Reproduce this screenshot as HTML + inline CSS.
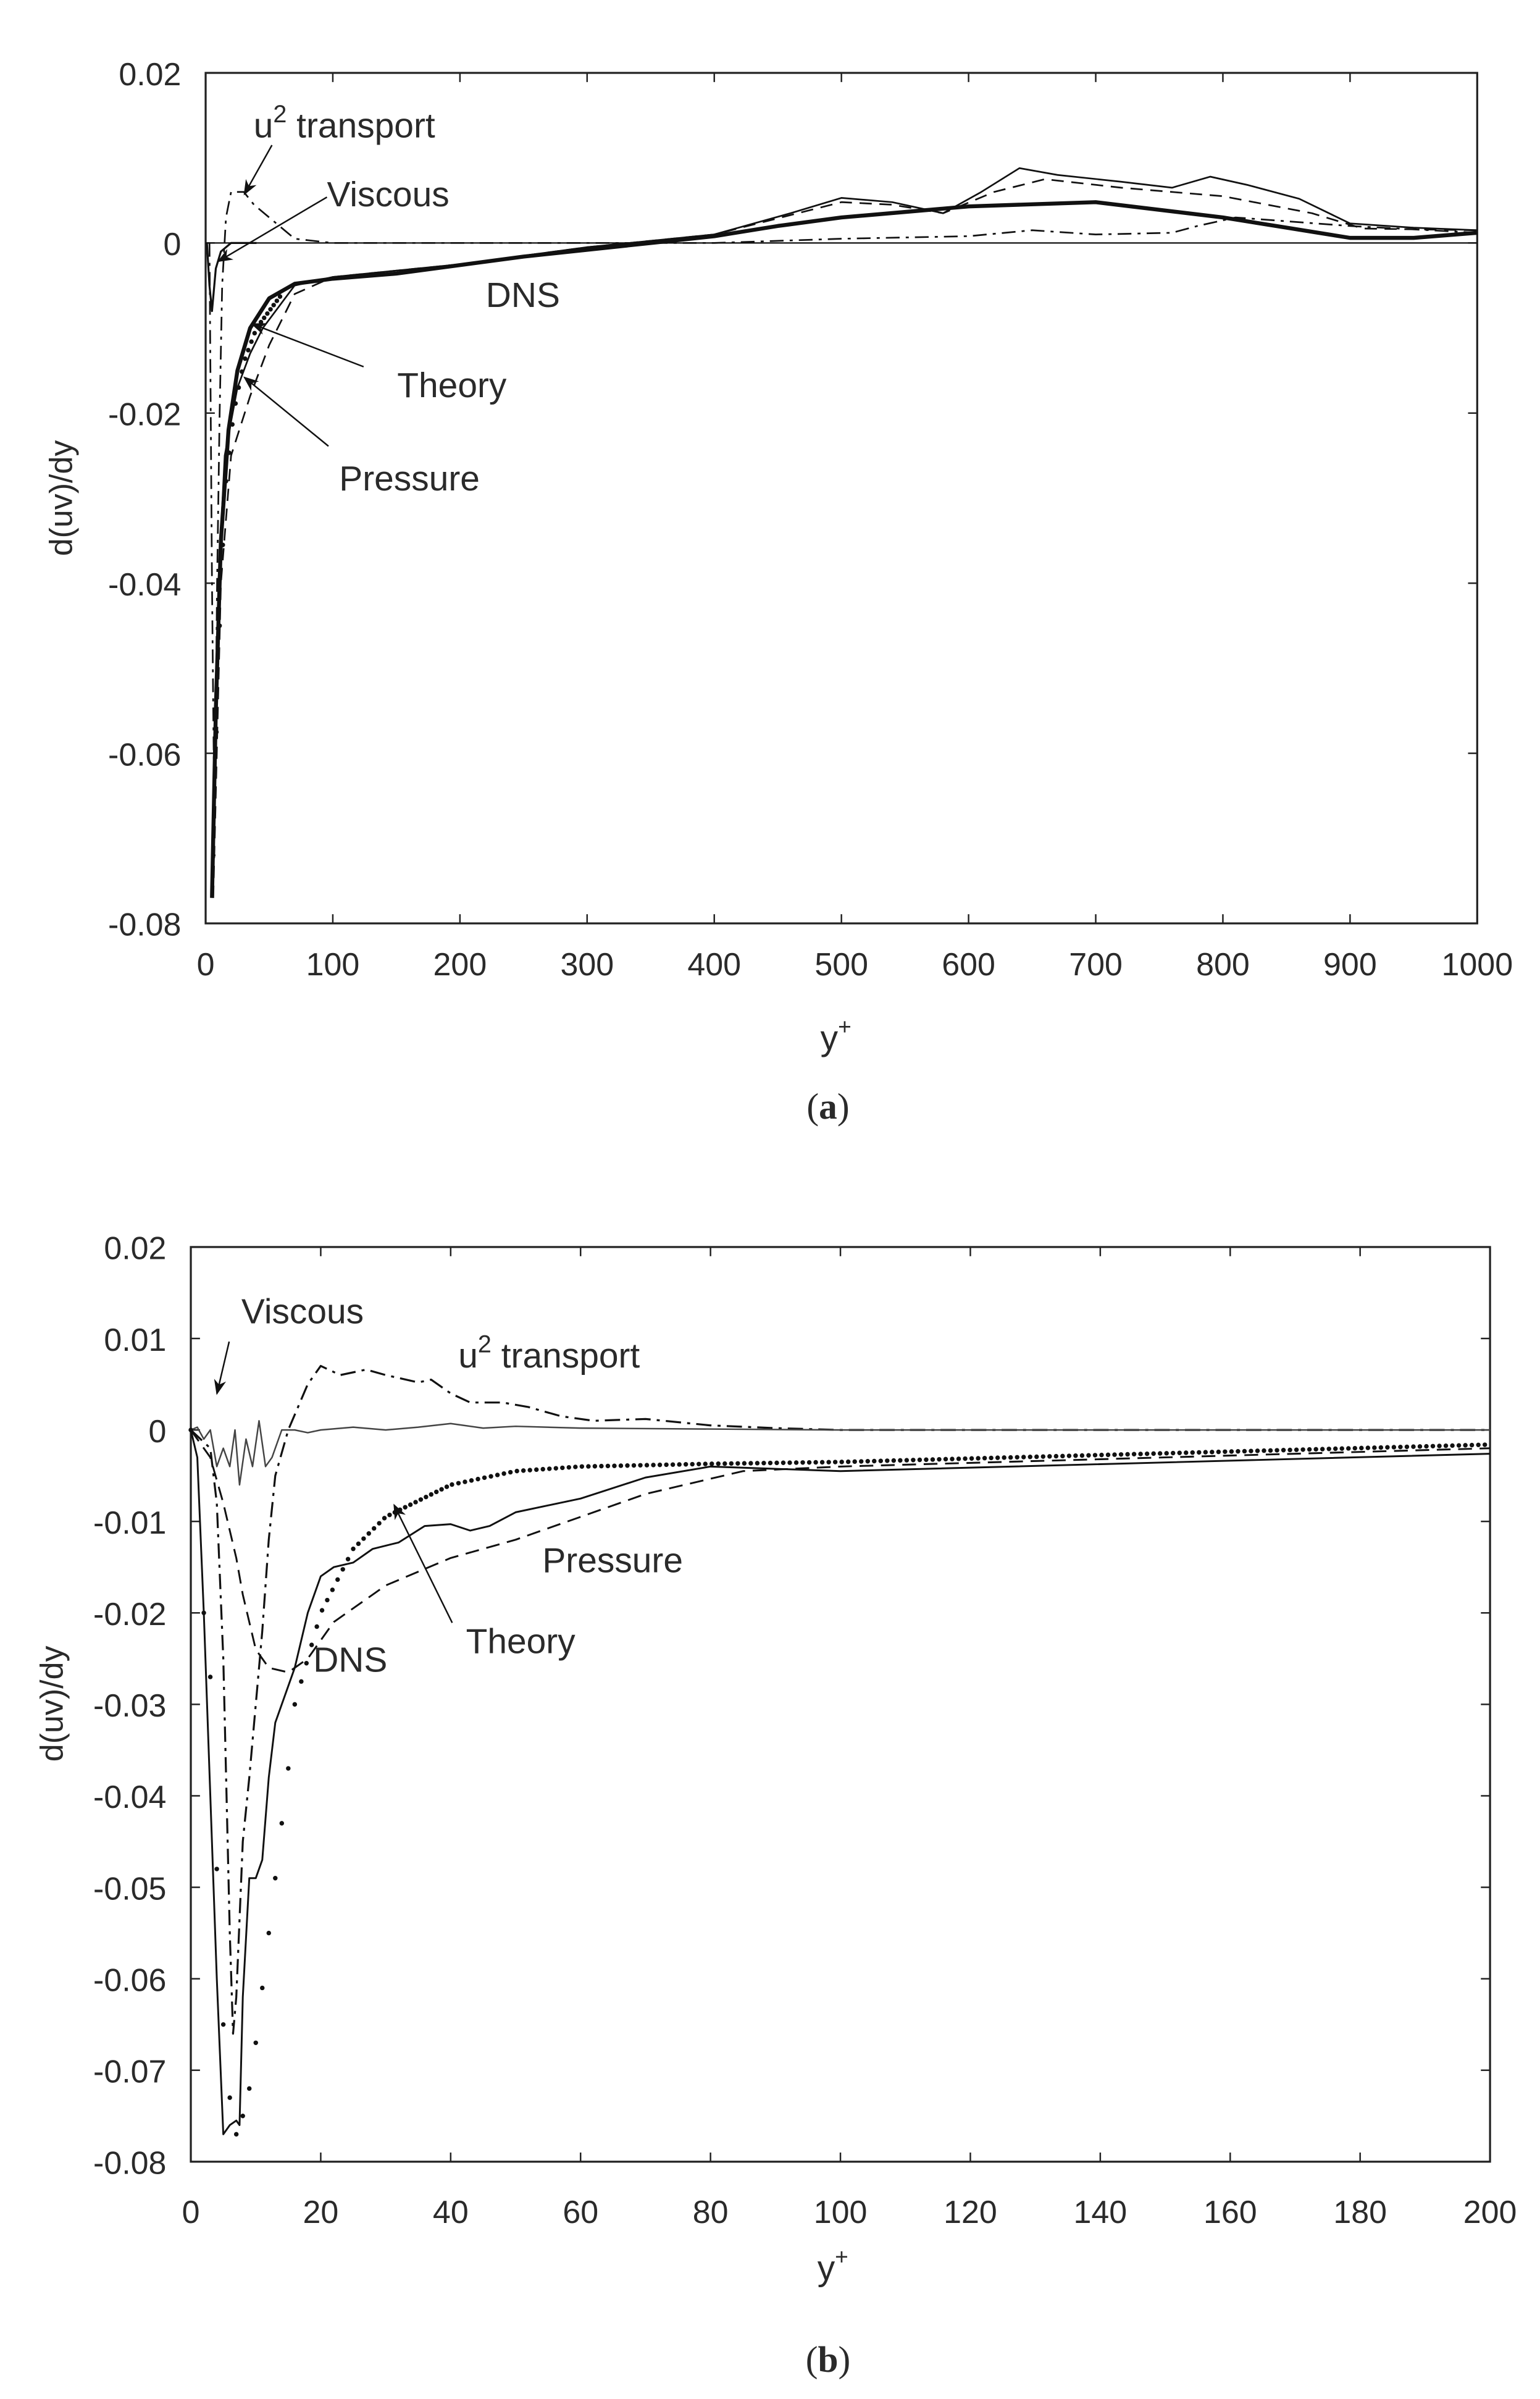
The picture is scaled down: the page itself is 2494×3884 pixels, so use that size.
<!DOCTYPE html>
<html><head><meta charset="utf-8"><style>
html,body{margin:0;padding:0;background:#fff;}
svg{display:block;}
text{font-family:"Liberation Sans",sans-serif;fill:#2a2a2a;}
</style></head><body>
<svg id="s" width="2494" height="3884" viewBox="0 0 1008 1570" preserveAspectRatio="none" xmlns="http://www.w3.org/2000/svg">
<defs><marker id="ar" markerWidth="10" markerHeight="10" refX="9" refY="5" orient="auto" markerUnits="userSpaceOnUse"><path d="M0,1 L10,5 L0,9 L3,5 Z" fill="#111"/></marker></defs>
<g id="g"></g>
<text x="166" y="90" font-size="23">u<tspan dy="-10" font-size="16">2</tspan><tspan dy="10"> transport</tspan></text>
<text x="214" y="135" font-size="23">Viscous</text>
<text x="318" y="201" font-size="23">DNS</text>
<text x="260" y="260" font-size="23">Theory</text>
<text x="222" y="321" font-size="23">Pressure</text>
<text x="0" y="0" font-size="21" transform="translate(47,326) rotate(-90)" text-anchor="middle">d(uv)/dy</text>
<text x="537" y="687" font-size="23">y<tspan dy="-10" font-size="15">+</tspan></text>
<text x="542" y="732" font-size="24" text-anchor="middle" style="font-family:'Liberation Serif',serif">(<tspan font-weight="bold">a</tspan>)</text>
<text x="158" y="866" font-size="23">Viscous</text>
<text x="300" y="895" font-size="23">u<tspan dy="-10" font-size="16">2</tspan><tspan dy="10"> transport</tspan></text>
<text x="355" y="1029" font-size="23">Pressure</text>
<text x="305" y="1082" font-size="23">Theory</text>
<text x="205" y="1094" font-size="23">DNS</text>
<text x="0" y="0" font-size="21" transform="translate(41,1115) rotate(-90)" text-anchor="middle">d(uv)/dy</text>
<text x="535" y="1492" font-size="23">y<tspan dy="-10" font-size="15">+</tspan></text>
<text x="542" y="1552" font-size="24" text-anchor="middle" style="font-family:'Liberation Serif',serif">(<tspan font-weight="bold">b</tspan>)</text>
</svg>
<script>
var g=document.getElementById('g'),NS='http://www.w3.org/2000/svg';
function el(t,a){var e=document.createElementNS(NS,t);for(var k in a)e.setAttribute(k,a[k]);g.appendChild(e);return e;}
function plot(P){
 var fx=function(x){return P.L+(x-P.x0)/(P.x1-P.x0)*(P.R-P.L)},fy=function(y){return P.T+(P.y1-y)/(P.y1-P.y0)*(P.B-P.T)};
 P.fx=fx;P.fy=fy;
 el('rect',{x:P.L,y:P.T,width:P.R-P.L,height:P.B-P.T,fill:'none',stroke:'#222','stroke-width':1.3});
 for(var i=0;i<P.xt.length;i++){var v=P.xt[i],X=fx(v);
  el('line',{x1:X,y1:P.B,x2:X,y2:P.B-6,stroke:'#222','stroke-width':1});el('line',{x1:X,y1:P.T,x2:X,y2:P.T+6,stroke:'#222','stroke-width':1});
  var t=el('text',{x:X,y:P.B+P.xo,'font-size':21,'text-anchor':'middle'});t.textContent=v;}
 for(var i=0;i<P.yt.length;i++){var v=P.yt[i],Y=fy(v);
  el('line',{x1:P.L,y1:Y,x2:P.L+6,y2:Y,stroke:'#222','stroke-width':1});el('line',{x1:P.R,y1:Y,x2:P.R-6,y2:Y,stroke:'#222','stroke-width':1});
  var t=el('text',{x:P.L-16,y:Y+8,'font-size':21,'text-anchor':'end'});t.textContent=v==0?'0':(v/1000).toFixed(2);}
}
function line(P,d,a){var s='';for(var i=0;i<d.length;i++)s+=(i?'L':'M')+P.fx(d[i][0]).toFixed(2)+','+P.fy(d[i][1]).toFixed(2);
 var o={d:s,fill:'none',stroke:'#111','stroke-width':1,'stroke-linejoin':'round'};for(var k in a)o[k]=a[k];el('path',o);}
function dots(P,d,r){for(var i=0;i<d.length;i++)el('circle',{cx:P.fx(d[i][0]),cy:P.fy(d[i][1]),r:r||1.4,fill:'#111'});}
function arrow(x1,y1,x2,y2){el('line',{x1:x1,y1:y1,x2:x2,y2:y2,stroke:'#111','stroke-width':1,'marker-end':'url(#ar)'});}
function interp(d,x){for(var i=1;i<d.length;i++)if(x<=d[i][0]){var a=d[i-1],b=d[i];return a[1]+(b[1]-a[1])*(x-a[0])/(b[0]-a[0]);}return d[d.length-1][1];}

var A={L:134.6,R:966.9,T:47.7,B:604.3,x0:0,x1:1000,y0:-80,y1:20,xo:34,xt:[0,100,200,300,400,500,600,700,800,900,1000],yt:[20,0,-20,-40,-60,-80]};
plot(A);
line(A,[[0,0],[1000,0]],{'stroke-width':0.9});
line(A,[[5,-77],[8,-55],[12,-35],[18,-22],[25,-15],[35,-10],[50,-6.5],[70,-4.8],[100,-4.2],[150,-3.6],[250,-1.6],[350,0],[400,0.8],[450,2],[500,3],[600,4.3],[700,4.8],[800,3],[850,1.8],[900,0.6],[950,0.6],[1000,1.2]],{'stroke-width':2.6});
line(A,[[5,-77],[10,-40],[15,-25],[25,-17],[35,-13],[45,-10],[55,-8],[70,-5],[100,-4],[200,-2.5],[300,-0.5],[400,1],[460,3.5],[500,5.3],[540,4.8],[580,3.5],[610,6],[640,8.8],[670,8],[720,7.2],[760,6.5],[790,7.8],[820,6.8],[860,5.2],[900,2.3],[950,1.8],[1000,1.5]],{'stroke-width':1.1});
line(A,[[6,-77],[12,-40],[20,-25],[35,-18],[50,-12],[70,-6],[100,-4],[200,-2.5],[300,-0.5],[400,1],[500,4.8],[540,4.5],[580,3.5],[620,6],[660,7.5],[720,6.5],[800,5.5],[870,3.5],[910,1.7],[1000,1.5]],{'stroke-width':1.1,'stroke-dasharray':'8,5'});
line(A,[[3,0],[5,-40],[7,-70],[9,-40],[11,-20],[13,-5],[16,3],[20,6],[30,6],[38,4.5],[50,3],[70,0.5],[100,0],[400,0],[500,0.5],[600,0.8],[650,1.5],[700,1],[760,1.2],[780,2],[810,3],[900,2],[1000,1.2]],{'stroke-width':1.1,'stroke-dasharray':'9,4,2,4'});
line(A,[[1,0],[3,-5],[5,-8],[8,-3],[12,-1],[20,0],[40,0]],{'stroke-width':1.3});
var pa=[];for(var x=6;x<=60;x+=2.5)pa.push([x,interp([[5,-78],[8,-60],[12,-40],[16,-28],[22,-20],[30,-14],[40,-10],[60,-6]],x)]);dots(A,pa,1.5);
arrow(178,95,160,127);arrow(214,129,143,171);arrow(238,240,165,212);arrow(215,292,160,247);

var B={L:124.9,R:975.3,T:816.1,B:1414.7,x0:0,x1:200,y0:-80,y1:20,xo:40,xt:[0,20,40,60,80,100,120,140,160,180,200],yt:[20,10,0,-10,-20,-30,-40,-50,-60,-70,-80]};
plot(B);
line(B,[[0,0],[1,-3],[2,-20],[3,-40],[4,-60],[5,-77],[6,-76],[7,-75.5],[7.5,-76],[8,-62],[9,-49],[10,-49],[11,-47],[12,-38],[13,-32],[14,-30],[16,-26],[18,-20],[20,-16],[22,-15],[25,-14.5],[28,-13],[32,-12.3],[36,-10.5],[40,-10.3],[43,-11],[46,-10.5],[50,-9],[60,-7.5],[70,-5.2],[80,-4],[100,-4.5],[200,-2.6]],{'stroke-width':1.2});
line(B,[[0,0],[3,-3],[5,-8],[7,-14],[8,-18],[10,-24],[12,-26],[15,-26.5],[18,-25],[22,-21],[30,-17],[40,-14],[50,-12],[60,-9.5],[70,-7],[85,-4.5],[100,-4],[200,-2]],{'stroke-width':1.2,'stroke-dasharray':'9,5'});
line(B,[[0,0],[3,-2],[4,-8],[5,-25],[6,-55],[6.5,-66],[7,-62],[8,-45],[9,-38],[10,-30],[11,-22],[12,-12],[13,-5],[15,0],[18,5],[20,7],[23,6],[27,6.6],[30,6],[35,5.2],[37,5.5],[40,4],[43,3],[48,3],[52,2.5],[57,1.5],[62,1],[70,1.2],[80,0.5],[90,0.2],[100,0],[200,0]],{'stroke-width':1.3,'stroke-dasharray':'10,4,2,4'});
line(B,[[0,0],[1,0.3],[2,-1],[3,0],[4,-4],[5,-2],[6,-4],[6.8,0],[7.5,-6],[8.5,-1],[9.5,-4],[10.5,1],[11.5,-4],[12.5,-3],[14,0],[16,0],[18,-0.3],[20,0],[25,0.3],[30,0],[35,0.3],[40,0.7],[45,0.2],[50,0.4],[60,0.2],[100,0],[200,0]],{'stroke-width':1,stroke:'#444'});
var dd=[[0,0],[2,-20],[3,-27],[4,-48],[5,-65],[6,-73],[7,-77],[8,-75],[9,-72],[10,-67],[11,-61],[12,-55],[13,-49],[14,-43],[15,-37],[16,-30],[18,-25],[20,-20],[25,-13],[30,-9.5],[40,-6],[50,-4.5],[60,-4],[80,-3.7],[100,-3.5],[200,-1.6]];
var pb=[];for(var i=0;i<dd.length;i++)if(dd[i][0]<=16)pb.push(dd[i]);
for(var x=17;x<=200;x+=(x<40?0.8:1.0))pb.push([x,interp(dd,x)]);
dots(B,pb,1.5);
arrow(150,878,142,912);arrow(296,1062,258,985);
</script>
</body></html>
